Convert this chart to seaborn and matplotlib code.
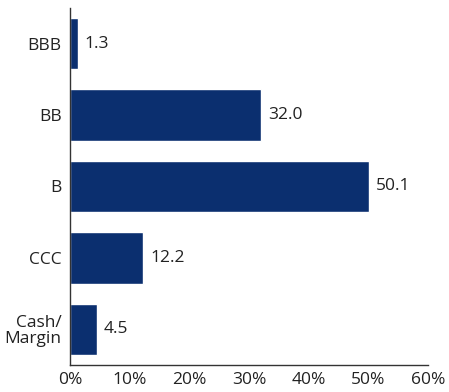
import matplotlib
matplotlib.use("Agg")
import matplotlib.pyplot as plt
import seaborn as sns
import pandas as pd

categories = ["BBB", "BB", "B", "CCC", "Cash/\nMargin"]
values = [1.3, 32.0, 50.1, 12.2, 4.5]
xticks = [0, 10, 20, 30, 40, 50, 60]
xticklabels = ["0%", "10%", "20%", "30%", "40%", "50%", "60%"]

sns.set_style("white")
plt.rcParams["font.family"] = ["Open Sans", "DejaVu Sans"]

df = pd.DataFrame({"cat": categories, "val": values})

fig = plt.figure(figsize=(4.49, 3.92), dpi=100)
ax = fig.add_axes([70/449, (392-365)/392, (428-70)/449, (365-8)/392])
sns.barplot(data=df, y="cat", x="val", orient="h", color="#0b2f6f",
            saturation=1, width=0.72, ax=ax)

for i, v in enumerate(values):
    ax.text(v + 1.2, i, f"{v:.1f}", va="center", ha="left", fontsize=12.5, color="#222222")

ax.set_xlim(0, 60)
ax.set_ylim(4.5, -0.5)
ax.set_xticks(xticks)
ax.set_xticklabels(xticklabels)
ax.set_xlabel("")
ax.set_ylabel("")
for s in ["top", "right"]:
    ax.spines[s].set_visible(False)
for s in ["left", "bottom"]:
    ax.spines[s].set_color("#333333")
    ax.spines[s].set_linewidth(1.0)
ax.tick_params(axis="x", direction="in", length=8, width=1, color="#333333",
               labelsize=12.5, labelcolor="#222222", pad=5)
ax.tick_params(axis="y", length=0, labelsize=12.5, labelcolor="#222222", pad=6)
for lbl in ax.get_yticklabels():
    lbl.set_multialignment("right")
    lbl.set_linespacing(1.0)

fig.savefig("out.png", dpi=100)
